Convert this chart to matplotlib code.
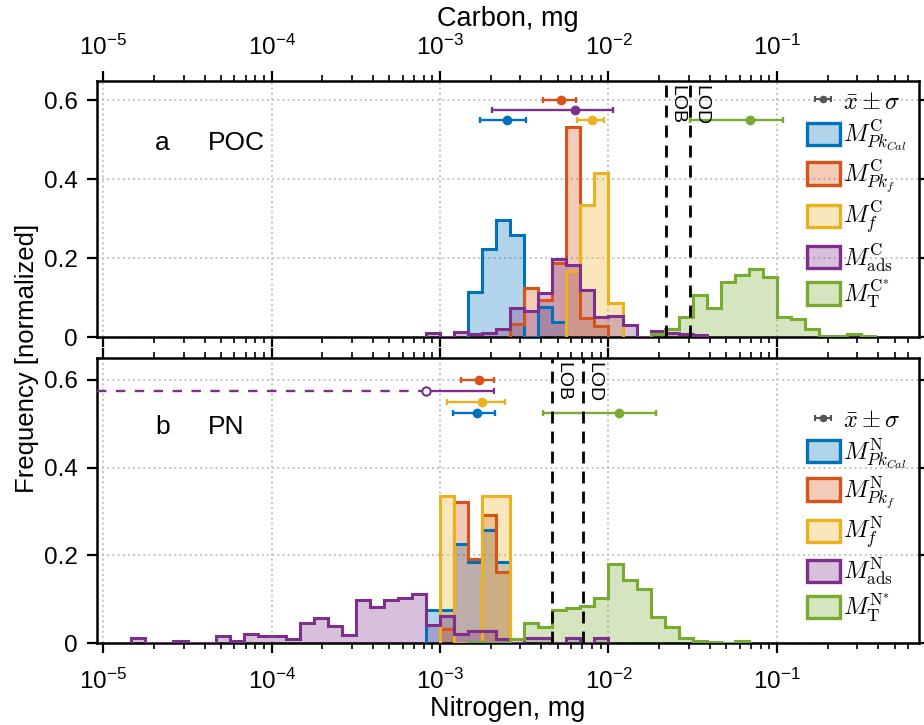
import numpy as np
import matplotlib
matplotlib.use('Agg')
import matplotlib.pyplot as plt
from matplotlib.patches import Patch
from matplotlib.font_manager import FontProperties
from matplotlib.ticker import LogLocator, NullFormatter
from matplotlib.legend_handler import HandlerErrorbar
from matplotlib.container import ErrorbarContainer
from matplotlib.colors import to_rgba

plt.rcParams['font.family'] = ['Liberation Sans', 'DejaVu Sans']

# ---------------- data ----------------
BINS_PER_DECADE = 12          # histogram bin edges at 10**(k/12) mg
colors = ['#0072BD', '#D95319', '#EDB120', '#7E2F8E', '#77AC30']

# Carbon (panel a): first bin index k and normalized frequencies
c_start = [-34, -31, -27, -37, -21]
c_PkCal = [0.114, 0.223, 0.297, 0.260, 0.0, 0.076, 0.039]
c_Pkf = [0.034, 0.125, 0.094, 0.187, 0.532, 0.050, 0.028]
c_f = [0.168, 0.334, 0.416, 0.086]
c_ads = [0.010, 0.0, 0.013, 0.008, 0.012, 0.021, 0.074, 0.066, 0.113, 0.198,
         0.183, 0.120, 0.052, 0.055, 0.030, 0.0, 0.017, 0.012, 0.008, 0.005]
c_T = [0.008, 0.020, 0.052, 0.107, 0.075, 0.139, 0.159, 0.173, 0.153, 0.052,
       0.046, 0.020, 0.004, 0.002, 0.008, 0.004]
c_labels = [r'$M^{\mathrm{C}}_{Pk_{Cal}}$', r'$M^{\mathrm{C}}_{Pk_f}$',
            r'$M^{\mathrm{C}}_{f}$', r'$M^{\mathrm{C}}_{\mathrm{ads}}$',
            r'$M^{\mathrm{C}^{*}}_{\mathrm{T}}$']
c_mean = [2.48e-3, 5.22e-3, 7.94e-3, 6.32e-3, 6.95e-2]
c_sd = [0.75e-3, 1.16e-3, 1.44e-3, 4.30e-3, 3.90e-2]
c_lob, c_lod = 0.0219, 0.0305

# Nitrogen (panel b)
n_start = [-37, -36, -36, -58, -34]
n_PkCal = [0.075, 0.075, 0.225, 0.185, 0.259, 0.185]
n_Pkf = [0.032, 0.322, 0.192, 0.291, 0.163]
n_f = [0.335, 0.0, 0.0, 0.335, 0.335]
n_ads = [0.011, 0.0, 0.0, 0.005, 0.0, 0.0, 0.017, 0.005, 0.021, 0.017,
         0.017, 0.010, 0.047, 0.057, 0.040, 0.019, 0.099, 0.082, 0.099, 0.104,
         0.113, 0.042, 0.062, 0.021, 0.027, 0.027, 0.010, 0.0, 0.013, 0.013,
         0.0, 0.011, 0.0, 0.011]
n_T = [0.003, 0.0, 0.0, 0.009, 0.046, 0.036, 0.076, 0.081, 0.085, 0.104,
       0.181, 0.143, 0.123, 0.059, 0.036, 0.011, 0.006, 0.004, 0.0, 0.006]
n_labels = [r'$M^{\mathrm{N}}_{Pk_{Cal}}$', r'$M^{\mathrm{N}}_{Pk_f}$',
            r'$M^{\mathrm{N}}_{f}$', r'$M^{\mathrm{N}}_{\mathrm{ads}}$',
            r'$M^{\mathrm{N}^{*}}_{\mathrm{T}}$']
n_mean = [1.65e-3, 1.71e-3, 1.77e-3, 8.3e-4, 1.16e-2]
n_sd = [0.46e-3, 0.38e-3, 0.67e-3, 1.26e-3, 7.5e-3]
n_lob, n_lod = 4.6e-3, 7.03e-3

# ---------------- layout ----------------
XLIM = (10 ** -5.039, 10 ** -0.156)
c_rows = [0.55, 0.60, 0.55, 0.575, 0.55]
n_rows = [0.525, 0.60, 0.55, 0.575, 0.525]

fig = plt.figure(figsize=(9.24, 7.25), dpi=100)
ax1 = fig.add_axes([0.1047, 0.5348, 0.8899, 0.3539])
ax2 = fig.add_axes([0.1047, 0.1127, 0.8899, 0.3939])

leg_font = FontProperties(family=['Liberation Sans'], size=17.5, math_fontfamily='cm')


def setup(ax):
    ax.set_xscale('log')
    ax.set_xlim(*XLIM)
    ax.set_ylim(0, 0.65)
    ax.set_yticks([0, 0.2, 0.4, 0.6])
    ax.set_yticklabels(['0', '0.2', '0.4', '0.6'])
    ax.xaxis.set_major_locator(LogLocator(base=10, numticks=12))
    ax.xaxis.set_minor_locator(LogLocator(base=10, subs=np.arange(2, 10), numticks=12))
    ax.xaxis.set_minor_formatter(NullFormatter())
    ax.tick_params(which='both', direction='out', top=True, right=True,
                   labelsize=17.5)
    ax.tick_params(axis='y', pad=6.5)
    ax.tick_params(axis='x', pad=8)
    ax.tick_params(which='major', length=7, width=1.6)
    ax.tick_params(which='minor', length=4, width=1.2)
    for s in ax.spines.values():
        s.set_linewidth(1.8)
    ax.grid(True, which='major', ls=':', color='#c4c4c4', lw=1.4)
    ax.set_axisbelow(True)


def panel(ax, starts, series, labels, means, sds, rows, lob, lod, leg_anchor):
    setup(ax)
    handles = []
    for k0, vals, c in zip(starts, series, colors):
        vals = np.asarray(vals, dtype=float)
        edges = 10 ** (np.arange(k0, k0 + len(vals) + 1) / BINS_PER_DECADE)
        ax.stairs(vals, edges, fill=True, color=c, alpha=0.3, lw=0, zorder=2)
        ax.stairs(vals, edges, color=c, lw=2.2, baseline=0, zorder=3)
        handles.append(Patch(facecolor=to_rgba(c, 0.3), edgecolor=c, lw=2.4))
    for m, s, y, c in zip(means, sds, rows, colors):
        if m - s > 0:
            ax.errorbar(m, y, xerr=s, fmt='o', color=c, ms=6, capsize=2.4,
                        elinewidth=1.7, capthick=1.7, zorder=5)
        else:
            ax.plot([XLIM[0], m], [y, y], ls=(0, (4, 4)), color=c, lw=1.7, zorder=5)
            ax.errorbar(m, y, xerr=[[0], [s]], fmt='o', color=c, mfc='white',
                        mew=1.5, ms=6, capsize=2.4, elinewidth=1.7,
                        capthick=1.7, zorder=6)
    for v, t in ((lob, 'LOB'), (lod, 'LOD')):
        ax.axvline(v, color='k', ls=(0, (4.3, 2.9)), lw=2.0, zorder=7)
        ax.annotate(t, xy=(v, 1), xycoords=('data', 'axes fraction'),
                    xytext=(1.8, -3), textcoords='offset points', rotation=270,
                    ha='left', va='top', fontsize=14, zorder=8)
    eb = ax.errorbar([1e-9], [0.5], xerr=[[5e-10], [5e-10]], fmt='o',
                     color='#555555', ms=4.5, capsize=2, elinewidth=1.5,
                     capthick=1.5)
    ax.set_xlim(*XLIM)
    ax.legend(handles=[eb] + handles,
              labels=[r'$\bar{x}\pm\sigma$'] + labels,
              handler_map={ErrorbarContainer: HandlerErrorbar(xerr_size=0.32)},
              loc='upper left', bbox_to_anchor=leg_anchor,
              bbox_transform=fig.transFigure, frameon=False, prop=leg_font,
              handlelength=1.36, handleheight=1.03, handletextpad=0.12,
              labelspacing=0.17, borderpad=0, borderaxespad=0, numpoints=1)


panel(ax1, c_start, [c_PkCal, c_Pkf, c_f, c_ads, c_T], c_labels,
      c_mean, c_sd, c_rows, c_lob, c_lod, (806.7 / 924, 1 - 89.5 / 725))
panel(ax2, n_start, [n_PkCal, n_Pkf, n_f, n_ads, n_T], n_labels,
      n_mean, n_sd, n_rows, n_lob, n_lod, (806.7 / 924, 1 - 408 / 725))

ax1.tick_params(labeltop=True, labelbottom=False)
ax1.xaxis.set_label_position('top')
ax1.set_xlabel('Carbon, mg', fontsize=19.5, labelpad=6)
ax2.tick_params(labeltop=False, labelbottom=True)
ax2.tick_params(axis='x', pad=11.5)
ax2.set_xlabel('Nitrogen, mg', fontsize=19.5, labelpad=1)

ax1.text(2.25e-5, 0.4735, 'a', fontsize=19, ha='center', va='baseline')
ax1.text(4.2e-5, 0.4735, 'POC', fontsize=19, ha='left', va='baseline')
ax2.text(2.25e-5, 0.4766, 'b', fontsize=19, ha='center', va='baseline')
ax2.text(4.2e-5, 0.4766, 'PN', fontsize=19, ha='left', va='baseline')

fig.text(0.029, 0.506, 'Frequency [normalized]', rotation=90, ha='center',
         va='center', fontsize=18.5)

fig.savefig('out.png', dpi=100)
